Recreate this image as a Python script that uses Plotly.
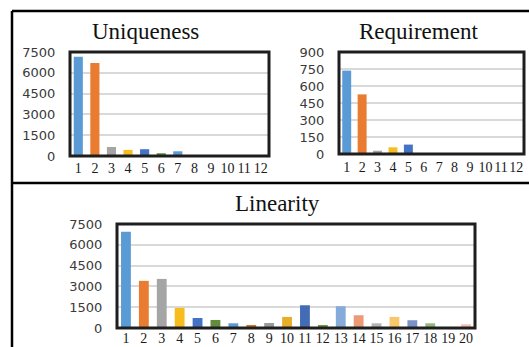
import plotly.graph_objects as go

# ---------------- data ----------------
uniq_cats = [str(i) for i in range(1, 13)]
uniq_vals = [7150, 6700, 650, 440, 490, 200, 340, 40, 25, 25, 30, 40]

req_cats = [str(i) for i in range(1, 13)]
req_vals = [736, 526, 29, 59, 83, 5, 5, 5, 4, 5, 5, 5]

lin_cats = [str(i) for i in range(1, 21)]
lin_vals = [6950, 3400, 3540, 1450, 720, 580, 340, 220, 360, 800,
            1640, 220, 1570, 920, 340, 800, 560, 340, 60, 270]

uniq_ticks = [0, 1500, 3000, 4500, 6000, 7500]
req_ticks = [0, 150, 300, 450, 600, 750, 900]
lin_ticks = [0, 1500, 3000, 4500, 6000, 7500]

palette = ["#5B9BD5", "#E97C30", "#A5A5A5", "#F7BC1E", "#4472C4", "#638C3E",
           "#5E9AD3", "#D9722E", "#9A9A9A", "#E6AF2A", "#436CB5", "#6A9A44",
           "#84ABD9", "#EC9A76", "#B5B5B5", "#F8C76C", "#7B91C9", "#94B87A",
           "#C5D4EC", "#F4C2AE"]

titles = ["Uniqueness", "Requirement", "Linearity"]

W, H = 529, 347

def px(x):
    return x / W

def py(y):
    return 1 - y / H

fig = go.Figure()

panels = [
    # (cats, vals, ticks, xaxis, yaxis, x0, x1, ytop, ybot, bargap, x-label standoff)
    (uniq_cats, uniq_vals, uniq_ticks, "x", "y", 70, 269, 52, 156, 0.45, 2),
    (req_cats, req_vals, req_ticks, "x2", "y2", 339, 524, 52, 154, 0.42, 3),
    (lin_cats, lin_vals, lin_ticks, "x3", "y3", 117, 475, 224, 328, 0.45, 0),
]

tick_font = dict(family="DejaVu Sans", size=13, color="#3a3a3a")
x_font = dict(family="Liberation Serif, Times New Roman, serif", size=14, color="#1a1a1a")

for i, (cats, vals, ticks, xa, ya, x0, x1, yt, yb, gap, sto) in enumerate(panels):
    fig.add_trace(go.Bar(
        x=cats, y=vals, xaxis=xa, yaxis=ya,
        marker=dict(color=palette[:len(cats)], line=dict(width=0)),
        width=1 - gap, showlegend=False, hoverinfo="x+y",
    ))
    suffix = "" if i == 0 else str(i + 1)
    fig.update_layout(**{
        "xaxis" + suffix: dict(
            domain=[px(x0), px(x1)], anchor=ya, type="category",
            tickmode="array", tickvals=cats, ticktext=cats, tickangle=0,
            showgrid=False, zeroline=False, showline=False, automargin=False,
            tickfont=x_font, ticks="", ticklabelstandoff=sto,
            fixedrange=True,
        ),
        "yaxis" + suffix: dict(
            domain=[py(yb), py(yt)], anchor=xa, automargin=False,
            range=[0, ticks[-1]], tickvals=ticks,
            showgrid=True, gridcolor="#d9d9d9", gridwidth=2,
            zeroline=False, showline=False,
            tickfont=tick_font, ticks="outside", ticklen=11, tickcolor="rgba(0,0,0,0)",
            fixedrange=True,
        ),
    })
    # thick plot-area frame
    fig.add_shape(type="rect", xref=xa + " domain", yref=ya + " domain",
                  x0=0, x1=1, y0=0, y1=1, line=dict(color="#1e1e1e", width=3),
                  layer="above")

# titles
title_pos = [(145, 31), (418, 31), (277, 203)]
for t, (cx, cy) in zip(titles, title_pos):
    fig.add_annotation(text=t, x=px(cx), y=py(cy), xref="paper", yref="paper",
                       xanchor="center", yanchor="middle", showarrow=False,
                       font=dict(family="Liberation Serif, Times New Roman, serif",
                                 size=23, color="#111111"))

# outer frame lines
frame = dict(color="#000000", width=2.5)
fig.add_shape(type="line", xref="paper", yref="paper", x0=px(12), x1=1.0, y0=py(11), y1=py(11), line=frame)
fig.add_shape(type="line", xref="paper", yref="paper", x0=px(12), x1=px(12), y0=py(11), y1=0, line=frame)
fig.add_shape(type="line", xref="paper", yref="paper", x0=px(12), x1=1.0, y0=py(183), y1=py(183), line=frame)

fig.update_layout(
    width=W, height=H, margin=dict(l=0, r=0, t=0, b=0),
    paper_bgcolor="white", plot_bgcolor="white",
    bargap=0.45,
)

fig.write_html("out.html", config={"displayModeBar": False},
               post_script="document.body.style.margin='0';document.body.style.overflow='hidden';")
